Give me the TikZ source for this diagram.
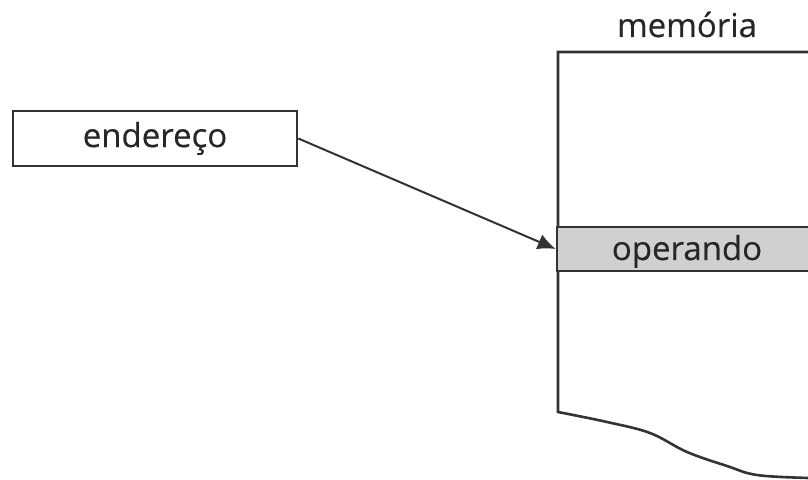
\documentclass[tikz,border=0pt]{standalone}
\usepackage{fontspec}
\setmainfont[FakeBold=0.4]{Open Sans}
\usetikzlibrary{arrows.meta,positioning}
\definecolor{LineGray}{HTML}{333333}
\definecolor{CellGray}{HTML}{D0D0D0}

\begin{document}
\begin{tikzpicture}[x=0.5pt,y=-0.5pt, every node/.style={font=\fontsize{16.5}{19}\selectfont,text=black!85},
 box/.style={draw=LineGray,line width=1.3pt,minimum width=142pt,minimum height=27.5pt,inner sep=0pt},
 cell/.style={draw=LineGray,line width=1.3pt,fill=CellGray,minimum width=130pt,minimum height=22pt,inner sep=0pt,text height=15pt,text depth=4pt},
 mem/.style={draw=LineGray,line width=1.3pt},
 arr/.style={-{Latex[length=9pt,width=8pt]},line width=1pt,LineGray}]
\useasboundingbox (0,0) rectangle (808,480);
% memory column, open on the right, torn at the bottom
\draw[mem] (830,52) -- (558,52) -- (558,412) -- plot[smooth,tension=0.6] coordinates {(558,412) (607,422) (650,433) (687,452) (727,466) (757,475) (808,478) (830,478)};
\node[anchor=base] (memlbl) at (687,37) {memória};
\node[cell] (oper) at (687,249) {operando};
\node[box] (addr) at (155,138.5) {endereço};
\draw[arr] (addr.east) -- (oper.west);
\end{tikzpicture}
\end{document}
